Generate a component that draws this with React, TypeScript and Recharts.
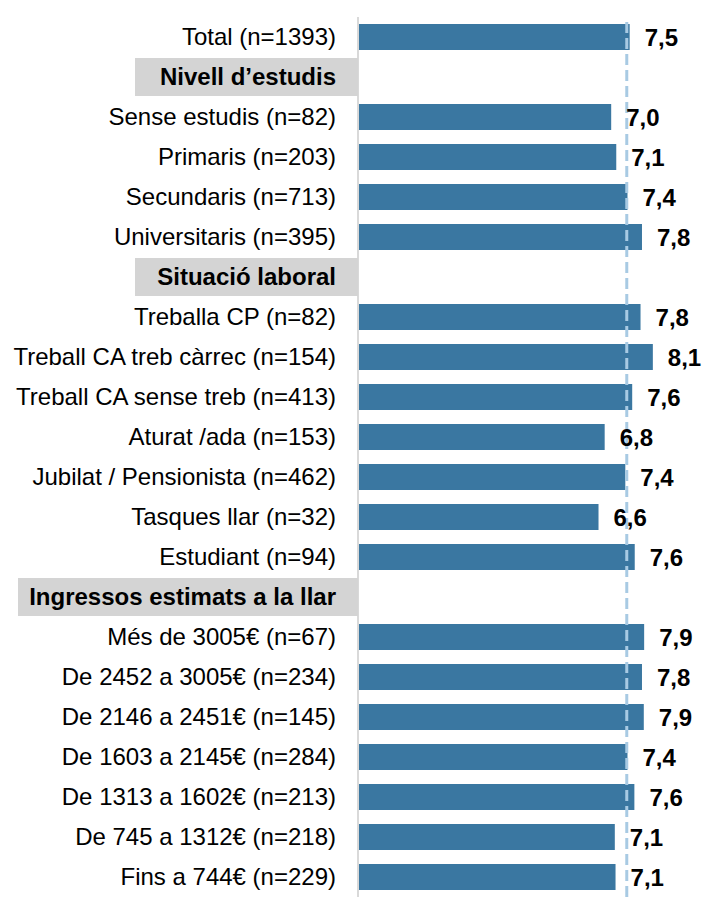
import { BarChart, Bar, XAxis, YAxis, ReferenceLine, LabelList } from "recharts";

const categories = [
  "Total (n=1393)",
  "Nivell d’estudis",
  "Sense estudis (n=82)",
  "Primaris (n=203)",
  "Secundaris (n=713)",
  "Universitaris (n=395)",
  "Situació laboral",
  "Treballa CP (n=82)",
  "Treball CA treb càrrec (n=154)",
  "Treball CA sense treb (n=413)",
  "Aturat /ada (n=153)",
  "Jubilat / Pensionista (n=462)",
  "Tasques llar (n=32)",
  "Estudiant (n=94)",
  "Ingressos estimats a la llar",
  "Més de 3005€ (n=67)",
  "De 2452 a 3005€ (n=234)",
  "De 2146 a 2451€ (n=145)",
  "De 1603 a 2145€ (n=284)",
  "De 1313 a 1602€ (n=213)",
  "De 745 a 1312€ (n=218)",
  "Fins a 744€ (n=229)",
];

// null = section header row (no bar)
const values: (number | null)[] = [
  7.5, null, 6.99, 7.13, 7.44, 7.84, null, 7.8, 8.14, 7.57, 6.81, 7.38, 6.64, 7.64,
  null, 7.9, 7.84, 7.89, 7.44, 7.63, 7.09, 7.11,
];

const headers = ["Nivell d’estudis", "Situació laboral", "Ingressos estimats a la llar"];

const meanValue = 7.42;

const data = categories.map((label, i) => ({ label, value: values[i] }));

const FONT = '"Liberation Sans", Arial, sans-serif';
const AXIS_X = 358;
const headerBoxWidth: Record<string, number> = {
  "Nivell d’estudis": 223,
  "Situació laboral": 223,
  "Ingressos estimats a la llar": 340,
};

function CategoryTick(props: any) {
  const { y, payload } = props;
  const label: string = payload.value;
  const isHeader = headers.includes(label);
  return (
    <g>
      {isHeader && (
        <rect x={AXIS_X - headerBoxWidth[label]} y={y - 19} width={headerBoxWidth[label]} height={38} fill="#d4d4d4" />
      )}
      <text
        x={AXIS_X - 22}
        y={y}
        dy="0.35em"
        textAnchor="end"
        fontFamily={FONT}
        fontSize={24}
        fontWeight={isHeader ? 700 : 400}
        fill="#000"
      >
        {label}
      </text>
    </g>
  );
}

function ValueLabel(props: any) {
  const { x, y, width, height, value } = props;
  if (value == null) return null;
  return (
    <text
      x={x + width + 15}
      y={y + height / 2}
      dy="0.36em"
      textAnchor="start"
      fontFamily={FONT}
      fontSize={24}
      fontWeight={700}
      fill="#000"
    >
      {Number(value).toFixed(1).replace(".", ",")}
    </text>
  );
}

export default function App() {
  return (
    <div style={{ position: "absolute", left: 0, top: 0, background: "#fff" }}>
      <BarChart
        width={703}
        height={897}
        data={data}
        layout="vertical"
        margin={{ top: 17, right: 19, bottom: 0, left: 0 }}
        barCategoryGap={7}
      >
        <XAxis type="number" domain={[0, 9]} hide />
        <YAxis
          type="category"
          dataKey="label"
          width={AXIS_X}
          interval={0}
          tick={<CategoryTick />}
          tickLine={false}
          axisLine={{ stroke: "#d9d9d9", strokeWidth: 2 }}
        />
        <Bar dataKey="value" fill="#3a77a1" barSize={26} isAnimationActive={false}>
          <LabelList dataKey="value" content={<ValueLabel />} />
        </Bar>
        <ReferenceLine x={meanValue} stroke="#a8cae3" strokeWidth={3} strokeDasharray="11 5" />
      </BarChart>
    </div>
  );
}
